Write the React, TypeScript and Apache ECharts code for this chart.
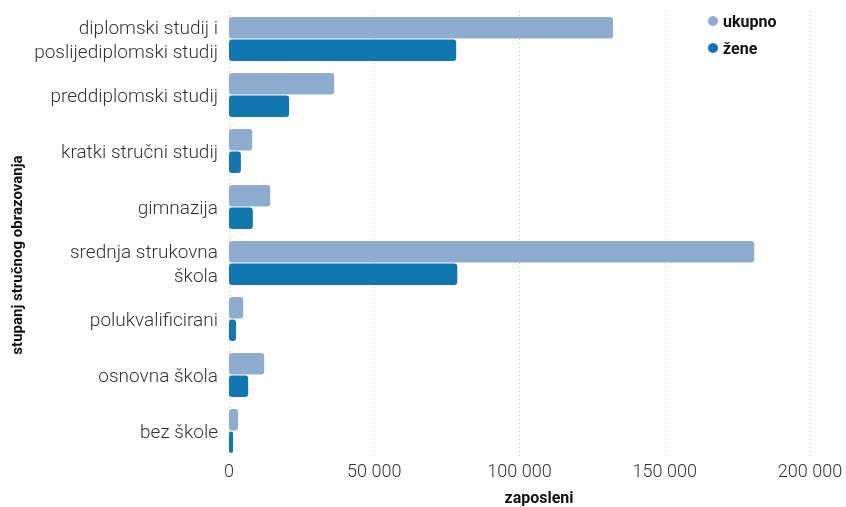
import React, { useEffect, useRef } from "react";
import * as echarts from "echarts";

const categories = [
  "diplomski studij i\nposlijediplomski studij",
  "preddiplomski studij",
  "kratki stručni studij",
  "gimnazija",
  "srednja strukovna\nškola",
  "polukvalificirani",
  "osnovna škola",
  "bez škole",
];
const ukupno = [132200, 36200, 8000, 14200, 180800, 4900, 12100, 3100];
const zene = [78200, 20700, 4100, 8200, 78600, 2400, 6600, 1400];
const seriesNames = ["ukupno", "žene"];
const colors = ["#8eabd0", "#1077b0"];
const xTicks = { min: 0, max: 200000, interval: 50000 };

export default function App() {
  const ref = useRef<HTMLDivElement>(null);
  useEffect(() => {
    if (!ref.current) return;
    const chart = echarts.init(ref.current, null, { renderer: "svg" });
    chart.setOption({
      animation: false,
      textStyle: { fontFamily: "Roboto" },
      legend: {
        orient: "vertical",
        left: 703,
        top: 8,
        itemGap: 11,
        itemWidth: 10,
        itemHeight: 10,
        icon: "circle",
        textStyle: { fontFamily: "Roboto", fontWeight: "bold", fontSize: 16, color: "#111" },
        data: seriesNames,
      },
      grid: { left: 229, right: 36, top: 11, bottom: 48, containLabel: false },
      xAxis: {
        type: "value",
        min: xTicks.min,
        max: xTicks.max,
        interval: xTicks.interval,
        axisLine: { show: false },
        axisTick: { show: false },
        axisLabel: {
          fontFamily: "Roboto",
          fontWeight: 300,
          fontSize: 18,
          color: "#333",
          margin: 2,
          formatter: (v: number) => String(v).replace(/\B(?=(\d{3})+(?!\d))/g, " "),
        },
        splitLine: { show: true, lineStyle: { type: [1, 3], color: "#c8c8c8", width: 1 } },
      },
      yAxis: {
        type: "category",
        data: categories,
        inverse: true,
        axisLine: { show: false },
        axisTick: { show: false },
        axisLabel: {
          fontFamily: "Roboto",
          fontWeight: 300,
          fontSize: 19,
          color: "#333",
          margin: 11,
          lineHeight: 24,
        },
      },
      graphic: [
        {
          type: "text",
          x: 17,
          y: 255,
          rotation: Math.PI / 2,
          style: {
            text: "stupanj stručnog obrazovanja",
            font: "bold 15px Roboto",
            fill: "#111",
            textAlign: "center",
            textVerticalAlign: "middle",
          },
        },
        {
          type: "text",
          x: 539,
          y: 497,
          style: {
            text: "zaposleni",
            font: "bold 16px Roboto",
            fill: "#111",
            textAlign: "center",
            textVerticalAlign: "middle",
          },
        },
      ],
      series: [
        {
          name: seriesNames[0],
          type: "bar",
          data: ukupno,
          barWidth: 21.5,
          barGap: "5%",
          itemStyle: { color: colors[0], borderRadius: 3 },
        },
        {
          name: seriesNames[1],
          type: "bar",
          data: zene,
          barWidth: 21.5,
          barGap: "5%",
          itemStyle: { color: colors[1], borderRadius: 3 },
        },
      ],
    });
    return () => chart.dispose();
  }, []);
  return (
    <div
      ref={ref}
      style={{ position: "fixed", left: 0, top: 0, width: 846, height: 507 }}
    />
  );
}
